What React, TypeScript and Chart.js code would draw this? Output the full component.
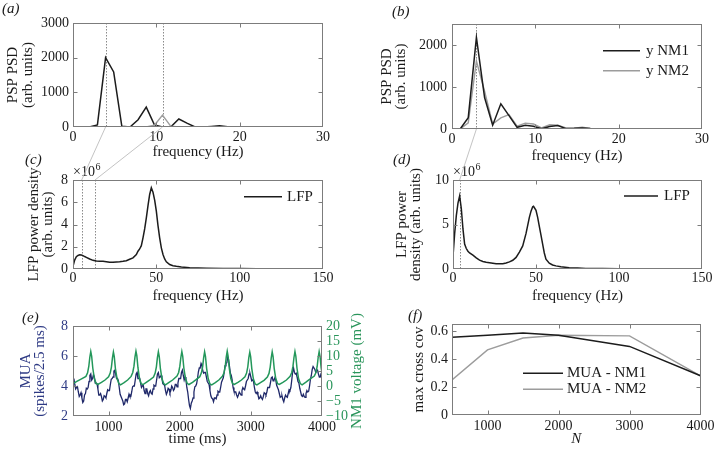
import React, { useEffect, useRef } from "react";
import { Chart, registerables } from "chart.js";

Chart.register(...registerables);

const FIG_W = 717;
const FIG_H = 452;
const FONT = '"Liberation Serif", "Times New Roman", Times, serif';
const INK = "#1a1a1a";
const BOX = "#7c7c7c";
const MARK = "#8a8a8a";
const LINK = "#b4b4b4";
const BLACK = "#1c1c1c";
const GRAY = "#9c9c9c";
const NAVY = "#1f2869";
const NAVY_TXT = "#2e3a84";
const GREEN = "#23975a";
const GREEN_TXT = "#2a955b";

// ---------------- data ----------------
// (a) and (b): PSP power spectra, frequency bins (Hz)
const PSD_FREQ = [0, 0.98, 1.95, 2.93, 3.91, 4.88, 5.86, 6.84, 7.81, 8.79, 9.77, 10.74, 11.72, 12.7, 13.67, 14.65, 15.63, 16.6, 17.58, 18.55, 19.53, 20.51, 21.48, 22.46, 23.44, 24.41, 25.39, 26.37, 27.34, 28.32, 29.3];
const A_NM1 = [0, 0, 0, 60, 2000, 1590, 20, 0, 210, 575, 60, 0, 0, 230, 110, 0, 0, 15, 35, 10, 0, 0, 0, 0, 0, 0, 0, 0, 0, 0, 0];
const A_NM2 = [0, 0, 0, 0, 0, 0, 0, 0, 0, 0, 50, 345, 25, 0, 0, 0, 0, 0, 0, 0, 0, 0, 0, 0, 0, 0, 0, 0, 0, 0, 0];
const B_NM1 = [0, 0, 270, 2180, 750, 90, 600, 320, 40, 90, 65, 5, 60, 85, 10, 15, 25, 10, 5, 0, 0, 0, 0, 0, 0, 0, 0, 0, 0, 0, 0];
const B_NM2 = [0, 0, 145, 1620, 900, 120, 265, 340, 65, 140, 120, 25, 100, 90, 25, 20, 40, 15, 5, 0, 0, 0, 0, 0, 0, 0, 0, 0, 0, 0, 0];
const A_MARKS = [3.91, 10.74];
const B_MARKS = [2.93];

// (c) and (d): LFP power density (x 10^6)
const C_FREQ = [0, 1, 2, 3, 4, 5, 6, 7, 8, 10, 12, 14, 16, 18, 20, 22, 24, 26, 28, 30, 32, 34, 36, 38, 39, 40, 41, 42, 43, 44, 45, 46, 47, 48, 49, 50, 51, 52, 53, 54, 55, 56, 58, 60, 62, 65, 70, 75, 80, 90, 100, 110, 120, 130, 140, 150];
const C_LFP = [0.25, 0.8, 1.1, 1.22, 1.27, 1.25, 1.2, 1.12, 1.05, 0.9, 0.78, 0.72, 0.7, 0.69, 0.66, 0.6, 0.6, 0.63, 0.66, 0.7, 0.75, 0.88, 1.0, 1.3, 1.6, 1.8, 2.1, 2.8, 3.6, 4.6, 5.7, 6.7, 7.3, 6.9, 6.2, 5.2, 3.9, 2.8, 1.9, 1.3, 0.9, 0.65, 0.4, 0.3, 0.24, 0.17, 0.12, 0.09, 0.07, 0.05, 0.04, 0.03, 0.025, 0.02, 0.015, 0.01];
const C_MARKS = [5.2, 13.2];
const D_FREQ = [0, 1, 2, 3, 4, 5, 6, 7, 8, 9, 10, 12, 14, 16, 18, 20, 22, 24, 26, 28, 30, 32, 34, 36, 38, 40, 42, 44, 46, 47, 48, 48.5, 50, 51, 52, 53, 54, 55, 56, 58, 60, 62, 65, 70, 75, 80, 90, 100, 120, 150];
const D_LFP = [1.4, 4.0, 6.0, 7.4, 8.2, 6.8, 4.5, 2.8, 2.3, 2.0, 1.8, 1.55, 1.25, 1.0, 0.85, 0.75, 0.7, 0.65, 0.6, 0.58, 0.6, 0.67, 0.8, 0.98, 1.3, 1.9, 2.6, 4.0, 5.8, 6.5, 7.0, 7.05, 6.6, 5.8, 4.8, 3.8, 2.8, 1.8, 1.1, 0.65, 0.45, 0.35, 0.25, 0.15, 0.1, 0.07, 0.05, 0.04, 0.03, 0.02];
const D_MARKS = [4.0];

// (e): MUA (spikes / 2.5 ms) sampled every 12.5 ms from 500 ms, and NM1 voltage (mV)
const MUA_T0 = 500;
const MUA_DT = 12.5;
const MUA = [
  4.4, 4.5, 4.1, 3.8, 3.9, 3.95, 3.6, 3.3, 3.4, 3.55, 3.2, 2.9, 3.0, 3.4, 3.5, 3.85,
  3.8, 3.9, 4.3, 4.7, 4.8, 4.4, 4.5, 4.75, 4.6, 4.2, 4.2, 4.15, 3.8, 3.4, 3.4, 3.5,
  3.3, 3.0, 3.1, 3.35, 3.3, 3.2, 3.5, 3.75, 3.7, 3.7, 4.1, 4.45, 4.5, 4.6, 5.0, 5.05,
  4.8, 4.5, 4.5, 4.35, 3.9, 3.45, 3.3, 3.3, 3.0, 2.75, 2.8, 3.1, 3.1, 2.95, 3.2, 3.45,
  3.3, 3.3, 3.6, 3.95, 4.0, 4.0, 4.4, 4.8, 4.9, 4.5, 4.5, 4.5, 4.2, 3.9, 4.0, 4.05,
  3.7, 3.5, 3.8, 3.8, 3.5, 3.35, 3.6, 3.7, 3.5, 3.45, 3.8, 4.05, 4.0, 4.0, 4.4, 4.8,
  4.9, 4.55, 4.6, 4.7, 4.5, 4.15, 4.1, 4.05, 3.7, 3.45, 3.6, 3.85, 3.8, 3.55, 3.7, 4.0,
  3.9, 3.7, 3.8, 4.1, 4.1, 3.95, 4.2, 4.5, 4.5, 4.5, 4.9, 5.05, 4.7, 4.4, 4.6, 4.4,
  3.9, 3.6, 3.1, 2.7, 2.5, 2.85, 3.0, 3.2, 3.6, 3.95, 4.0, 4.15, 4.5, 4.95, 5.2, 5.2,
  5.5, 5.35, 5.0, 4.85, 4.9, 4.9, 4.6, 4.3, 4.2, 4.1, 3.7, 3.35, 3.2, 3.15, 2.95, 3.2,
  3.2, 3.15, 3.4, 3.65, 3.6, 3.6, 3.9, 4.25, 4.4, 4.55, 4.9, 5.35, 5.5, 5.55, 5.9, 5.75,
  5.3, 4.85, 4.7, 4.4, 3.9, 3.65, 3.6, 3.6, 3.4, 3.25, 3.4, 3.6, 3.5, 3.4, 3.7, 3.9,
  3.8, 3.75, 4.0, 4.3, 4.4, 4.5, 4.8, 4.85, 4.6, 4.35, 4.4, 4.3, 3.9, 3.6, 3.5, 3.6,
  3.4, 3.15, 3.2, 3.35, 3.2, 3.1, 3.3, 3.55, 3.5, 3.4, 3.6, 3.9, 3.9, 3.9, 4.2, 4.55,
  4.6, 4.35, 4.4, 4.55, 4.4, 4.05, 3.9, 3.75, 3.5, 3.25, 3.3, 3.35, 3.1, 2.95, 3.2, 3.4,
  3.3, 3.25, 3.5, 3.75, 3.7, 3.9, 4.4, 4.95, 5.2, 4.9, 4.8, 4.85, 4.6, 4.3, 4.2, 3.85,
  3.6, 3.35, 3.3, 3.45, 3.3, 3.25, 3.5, 3.7, 3.6, 3.65, 4.0, 4.45, 4.7, 5.1, 5.3, 5.3,
  5.1, 4.9, 5.0, 5.05, 4.8, 4.6, 4.6, 4.85, 4.9,
];
const NM1_T = [
  500, 560, 620,
  682, 705, 722, 736, 750, 762, 778, 800, 825, 850, 900, 950,
  1000, 1023, 1040, 1054, 1068, 1080, 1096, 1118, 1143, 1168, 1218, 1268,
  1317, 1340, 1357, 1371, 1385, 1397, 1413, 1435, 1460, 1485, 1535, 1585,
  1632, 1655, 1672, 1686, 1700, 1712, 1728, 1750, 1775, 1800, 1850, 1900,
  1962, 1985, 2002, 2016, 2030, 2042, 2058, 2080, 2105, 2130, 2180, 2230,
  2282, 2305, 2322, 2336, 2350, 2362, 2378, 2400, 2425, 2450, 2500, 2550,
  2600, 2623, 2640, 2654, 2668, 2680, 2696, 2718, 2743, 2768, 2818, 2868,
  2917, 2940, 2957, 2971, 2985, 2997, 3013, 3035, 3060, 3085, 3135, 3185,
  3232, 3255, 3272, 3286, 3300, 3312, 3328, 3350, 3375, 3400, 3450, 3500,
  3552, 3575, 3592, 3606, 3620, 3632, 3648, 3670, 3695, 3720, 3770, 3820,
  3892, 3915, 3932, 3946, 3960, 3972, 3988, 4000,
];
const NM1_V = [
  0.8, 1.6, 2.4,
  3.2, 4.4, 6.5, 9.5, 11.5, 10.0, 6.0, 2.5, 0.8, 0.5, 1.2, 2.0,
  3.1, 4.3, 6.3, 9.3, 11.3, 9.8, 5.8, 2.6, 0.9, 0.4, 1.1, 2.0,
  3.2, 4.5, 6.6, 9.6, 11.6, 10.1, 6.1, 2.4, 0.7, 0.5, 1.3, 2.1,
  3.0, 4.3, 6.4, 9.4, 11.4, 9.9, 5.9, 2.5, 0.8, 0.4, 1.2, 2.0,
  3.3, 4.5, 6.6, 9.5, 11.5, 10.0, 6.0, 2.6, 0.9, 0.5, 1.2, 2.1,
  3.1, 4.4, 6.4, 9.4, 11.4, 9.9, 5.9, 2.5, 0.7, 0.4, 1.1, 2.0,
  3.2, 4.4, 6.5, 9.6, 11.6, 10.0, 6.0, 2.5, 0.8, 0.5, 1.2, 2.0,
  3.1, 4.3, 6.4, 9.4, 11.3, 9.8, 5.8, 2.4, 0.7, 0.4, 1.1, 1.9,
  3.0, 4.2, 6.3, 9.3, 11.4, 9.9, 5.9, 2.5, 0.8, 0.5, 1.2, 2.0,
  3.2, 4.5, 6.6, 9.5, 11.5, 10.0, 6.0, 2.5, 0.8, 0.4, 1.2, 2.1,
  3.3, 4.5, 6.5, 9.5, 11.5, 10.0, 6.0, 4.5,
];

// (f): max cross covariance vs N
const F_N = [500, 1000, 1500, 2000, 3000, 4000];
const F_NM1 = [0.555, 0.57, 0.585, 0.57, 0.49, 0.28];
const F_NM2 = [0.25, 0.465, 0.55, 0.57, 0.565, 0.28];

// tick values
const PSD_X_TICKS = [0, 10, 20, 30];
const A_Y_TICKS = [0, 1000, 2000, 3000];
const B_Y_TICKS = [0, 1000, 2000];
const LFP_X_TICKS = [0, 50, 100, 150];
const C_Y_TICKS = [0, 2, 4, 6, 8];
const D_Y_TICKS = [0, 5, 10];
const TIME_X_TICKS = [1000, 2000, 3000, 4000];
const E_YL_TICKS = [2, 4, 6, 8];
const E_YR_TICKS = [-10, -5, 0, 5, 10, 15, 20];
const F_Y_TICKS = [0, 0.2, 0.4, 0.6];

// ---------------- helpers ----------------
type AxisSpec = { min: number; max: number; ticks: number[]; pad: number; color?: string };
type PanelSpec = {
  area: { l: number; t: number; r: number; b: number };
  x: AxisSpec;
  y: AxisSpec;
  y2?: AxisSpec;
  datasets: any[];
  letter: { text: string; x: number; y: number };
  yTitle: { lines: string[]; xs: number[]; color?: string };
  y2Title?: { text: string; x: number; color: string };
  xTitle: { text: string; y: number; italic?: boolean };
  legend?: { x0: number; x1: number; tx: number; rows: { ds: number; y: number }[] };
  marks?: number[];
  exponent?: { x: number; y: number };
  link?: { from: () => any; fromVals: number[]; toVals: number[] };
};

function series(label: string, xs: number[], ys: number[], color: string, width: number, axis = "y") {
  return {
    label,
    data: xs.map((x, i) => ({ x, y: ys[i] })),
    borderColor: color,
    backgroundColor: color,
    borderWidth: width,
    pointRadius: 0,
    tension: 0,
    fill: false,
    yAxisID: axis,
  };
}

function fmt(v: number) {
  return v < 0 ? "\u2212" + Math.abs(v) : String(v);
}

function text(ctx: CanvasRenderingContext2D, s: string, x: number, y: number, o: { size?: number; color?: string; align?: CanvasTextAlign; rot?: number; italic?: boolean; baseline?: CanvasTextBaseline } = {}) {
  ctx.save();
  ctx.translate(x, y);
  ctx.rotate(o.rot || 0);
  ctx.font = `${o.italic ? "italic " : ""}${o.size || 15}px ${FONT}`;
  ctx.fillStyle = o.color || INK;
  ctx.textAlign = o.align || "center";
  ctx.textBaseline = o.baseline || "middle";
  ctx.fillText(s, 0, 0);
  ctx.restore();
}

function decoPlugin(spec: PanelSpec) {
  return {
    id: "deco",
    beforeDatasetsDraw(chart: any) {
      const { ctx, chartArea: a } = chart;
      const xs = chart.scales.x;
      (spec.marks || []).forEach((v) => {
        const px = Math.round(xs.getPixelForValue(v)) + 0.5;
        ctx.save();
        ctx.strokeStyle = MARK;
        ctx.lineWidth = 1;
        ctx.setLineDash([1.5, 1.5]);
        ctx.beginPath();
        ctx.moveTo(px, a.top);
        ctx.lineTo(px, a.bottom);
        ctx.stroke();
        ctx.restore();
      });
    },
    afterDraw(chart: any) {
      const { ctx, chartArea: a } = chart;
      const L = Math.round(a.left) + 0.5;
      const R = Math.round(a.right) - 0.5;
      const T = Math.round(a.top) + 0.5;
      const B = Math.round(a.bottom) - 0.5;
      ctx.save();
      ctx.strokeStyle = BOX;
      ctx.lineWidth = 1;
      ctx.strokeRect(L, T, R - L, B - T);
      const TL = 4;
      ctx.beginPath();
      chart.scales.x.ticks.forEach((tk: any) => {
        const px = Math.round(chart.scales.x.getPixelForValue(tk.value)) + 0.5;
        if (px <= L + 1 || px >= R - 1) return;
        ctx.moveTo(px, B);
        ctx.lineTo(px, B - TL);
        ctx.moveTo(px, T);
        ctx.lineTo(px, T + TL);
      });
      const yTicks = (scale: any, left: boolean, right: boolean) =>
        scale.ticks.forEach((tk: any) => {
          const py = Math.round(scale.getPixelForValue(tk.value)) + 0.5;
          if (py <= T + 1 || py >= B - 1) return;
          if (left) {
            ctx.moveTo(L, py);
            ctx.lineTo(L + TL, py);
          }
          if (right) {
            ctx.moveTo(R, py);
            ctx.lineTo(R - TL, py);
          }
        });
      yTicks(chart.scales.y, true, !spec.y2);
      if (spec.y2) yTicks(chart.scales.y2, false, true);
      ctx.stroke();

      const cx = (a.left + a.right) / 2;
      const cy = (a.top + a.bottom) / 2;
      text(ctx, spec.letter.text, spec.letter.x, spec.letter.y, { italic: true, align: "left" });
      spec.yTitle.lines.forEach((ln, i) =>
        text(ctx, ln, spec.yTitle.xs[i], cy, { rot: -Math.PI / 2, color: spec.yTitle.color })
      );
      if (spec.y2Title) text(ctx, spec.y2Title.text, spec.y2Title.x, cy, { rot: -Math.PI / 2, color: spec.y2Title.color });
      text(ctx, spec.xTitle.text, cx, spec.xTitle.y, { italic: spec.xTitle.italic });

      if (spec.exponent) {
        ctx.font = `14px ${FONT}`;
        const w = ctx.measureText("\u00d710").width;
        text(ctx, "\u00d710", spec.exponent.x, spec.exponent.y, { size: 14, align: "left", baseline: "alphabetic" });
        text(ctx, "6", spec.exponent.x + w + 0.5, spec.exponent.y - 6, { size: 10, align: "left", baseline: "alphabetic" });
      }

      if (spec.legend) {
        const lg = spec.legend;
        lg.rows.forEach((row) => {
          const ds = chart.data.datasets[row.ds];
          ctx.strokeStyle = ds.borderColor;
          ctx.lineWidth = ds.borderWidth;
          ctx.beginPath();
          ctx.moveTo(lg.x0, row.y);
          ctx.lineTo(lg.x1, row.y);
          ctx.stroke();
          text(ctx, ds.label, lg.tx, row.y, { align: "left" });
        });
      }

      if (spec.link) {
        const src = spec.link.from();
        if (src) {
          ctx.strokeStyle = LINK;
          ctx.lineWidth = 0.8;
          spec.link.fromVals.forEach((v, i) => {
            const x0 = src.scales.x.getPixelForValue(v);
            const y0 = src.chartArea.bottom;
            const x1 = chart.scales.x.getPixelForValue(spec.link!.toVals[i]);
            ctx.beginPath();
            ctx.moveTo(x0, y0);
            ctx.lineTo(x1, a.top);
            ctx.stroke();
          });
        }
      }
      ctx.restore();
    },
  };
}

function buildChart(canvas: HTMLCanvasElement, spec: PanelSpec) {
  const YW = 40;
  const XH = 24;
  const RW = 30;
  const { l, t, r, b } = spec.area;
  const tickFont = { family: FONT, size: 14 };
  const setTicks = (vals: number[]) => (s: any) => {
    s.ticks = vals.map((v) => ({ value: v }));
  };
  const yScale = (ax: AxisSpec, position: string, width: number) => ({
    type: "linear",
    position,
    min: ax.min,
    max: ax.max,
    afterBuildTicks: setTicks(ax.ticks),
    afterFit: (s: any) => {
      s.width = width;
    },
    grid: { display: false, drawTicks: false },
    border: { display: false },
    ticks: { font: tickFont, color: ax.color || INK, padding: ax.pad, autoSkip: false, callback: (v: any) => fmt(v) },
  });
  const scales: any = {
    x: {
      type: "linear",
      position: "bottom",
      min: spec.x.min,
      max: spec.x.max,
      afterBuildTicks: setTicks(spec.x.ticks),
      afterFit: (s: any) => {
        s.height = XH;
      },
      grid: { display: false, drawTicks: false },
      border: { display: false },
      ticks: { font: tickFont, color: INK, padding: spec.x.pad, maxRotation: 0, minRotation: 0, autoSkip: false, callback: (v: any) => fmt(v) },
    },
    y: yScale(spec.y, "left", YW),
  };
  if (spec.y2) scales.y2 = yScale(spec.y2, "right", RW);
  return new Chart(canvas, {
    type: "line",
    data: { datasets: spec.datasets },
    options: {
      responsive: false,
      animation: false,
      devicePixelRatio: 1,
      events: [],
      layout: {
        padding: { left: l - YW, top: t, right: FIG_W - r - (spec.y2 ? RW : 0), bottom: FIG_H - b - XH },
      },
      plugins: { legend: { display: false }, tooltip: { enabled: false }, title: { display: false } },
      scales,
    } as any,
    plugins: [decoPlugin(spec) as any],
  });
}

function makeSpecs(charts: any[]): PanelSpec[] {
  const muaT = MUA.map((_, i) => MUA_T0 + i * MUA_DT);
  return [
    {
      area: { l: 73, t: 23, r: 323, b: 127 },
      x: { min: 0, max: 30, ticks: PSD_X_TICKS, pad: 2 },
      y: { min: 0, max: 3000, ticks: A_Y_TICKS, pad: 4 },
      datasets: [series("y NM2", PSD_FREQ, A_NM2, GRAY, 1.4), series("y NM1", PSD_FREQ, A_NM1, BLACK, 1.5)],
      letter: { text: "(a)", x: 2, y: 9 },
      yTitle: { lines: ["PSP PSD", "(arb. units)"], xs: [13, 28] },
      xTitle: { text: "frequency (Hz)", y: 152 },
      marks: A_MARKS,
    },
    {
      area: { l: 452, t: 24, r: 702, b: 129 },
      x: { min: 0, max: 30, ticks: PSD_X_TICKS, pad: 2 },
      y: { min: 0, max: 2500, ticks: B_Y_TICKS, pad: 5 },
      datasets: [series("y NM1", PSD_FREQ, B_NM1, BLACK, 1.5), series("y NM2", PSD_FREQ, B_NM2, GRAY, 1.4)],
      letter: { text: "(b)", x: 392, y: 12.5 },
      yTitle: { lines: ["PSP PSD", "(arb. units)"], xs: [387, 401] },
      xTitle: { text: "frequency (Hz)", y: 156 },
      legend: { x0: 603, x1: 640, tx: 646, rows: [{ ds: 0, y: 50.7 }, { ds: 1, y: 70.7 }] },
      marks: B_MARKS,
    },
    {
      area: { l: 73, t: 180, r: 323, b: 269 },
      x: { min: 0, max: 150, ticks: LFP_X_TICKS, pad: 1 },
      y: { min: 0, max: 8, ticks: C_Y_TICKS, pad: 5 },
      datasets: [series("LFP", C_FREQ, C_LFP, BLACK, 1.5)],
      letter: { text: "(c)", x: 25, y: 160 },
      yTitle: { lines: ["LFP power density", "(arb. units)"], xs: [34, 48] },
      xTitle: { text: "frequency (Hz)", y: 296 },
      legend: { x0: 244, x1: 282, tx: 287, rows: [{ ds: 0, y: 196.7 }] },
      marks: C_MARKS,
      exponent: { x: 73, y: 176 },
      link: { from: () => charts[0], fromVals: A_MARKS, toVals: C_MARKS },
    },
    {
      area: { l: 453, t: 180, r: 702, b: 269 },
      x: { min: 0, max: 150, ticks: LFP_X_TICKS, pad: 1 },
      y: { min: 0, max: 10, ticks: D_Y_TICKS, pad: 4 },
      datasets: [series("LFP", D_FREQ, D_LFP, BLACK, 1.5)],
      letter: { text: "(d)", x: 393, y: 160 },
      yTitle: { lines: ["LFP power", "density (arb. units)"], xs: [402, 416] },
      xTitle: { text: "frequency (Hz)", y: 296 },
      legend: { x0: 624, x1: 658, tx: 664, rows: [{ ds: 0, y: 196 }] },
      marks: D_MARKS,
      exponent: { x: 453, y: 176 },
      link: { from: () => charts[1], fromVals: B_MARKS, toVals: D_MARKS },
    },
    {
      area: { l: 73, t: 326, r: 322, b: 416 },
      x: { min: 500, max: 4000, ticks: TIME_X_TICKS, pad: 2.5 },
      y: { min: 2, max: 8, ticks: E_YL_TICKS, pad: 5, color: NAVY_TXT },
      y2: { min: -10, max: 20, ticks: E_YR_TICKS, pad: 4, color: GREEN_TXT },
      datasets: [series("NM1 voltage", NM1_T, NM1_V, GREEN, 1.5, "y2"), series("MUA", muaT, MUA, NAVY, 1.3, "y")],
      letter: { text: "(e)", x: 22, y: 318 },
      yTitle: { lines: ["MUA", "(spikes/2.5 ms)"], xs: [26, 40], color: NAVY_TXT },
      y2Title: { text: "NM1 voltage (mV)", x: 357, color: GREEN_TXT },
      xTitle: { text: "time (ms)", y: 439 },
    },
    {
      area: { l: 452, t: 324, r: 702, b: 415 },
      x: { min: 500, max: 4000, ticks: TIME_X_TICKS, pad: 2.5 },
      y: { min: 0, max: 0.65, ticks: F_Y_TICKS, pad: 4 },
      datasets: [series("MUA - NM1", F_N, F_NM1, BLACK, 1.5), series("MUA - NM2", F_N, F_NM2, GRAY, 1.4)],
      letter: { text: "(f)", x: 408, y: 316 },
      yTitle: { lines: ["max cross cov"], xs: [419] },
      xTitle: { text: "N", y: 439, italic: true },
      legend: { x0: 523, x1: 563, tx: 567, rows: [{ ds: 0, y: 373.3 }, { ds: 1, y: 389.3 }] },
    },
  ];
}

export default function App() {
  const refs = useRef<(HTMLCanvasElement | null)[]>([]);
  useEffect(() => {
    const charts: any[] = [];
    const specs = makeSpecs(charts);
    specs.forEach((s, i) => {
      const cv = refs.current[i];
      if (cv) charts.push(buildChart(cv, s));
    });
    return () => charts.forEach((c) => c.destroy());
  }, []);
  return (
    <div style={{ position: "fixed", left: 0, top: 0, width: FIG_W, height: FIG_H, background: "#fff", overflow: "hidden" }}>
      {[0, 1, 2, 3, 4, 5].map((i) => (
        <canvas
          key={i}
          ref={(el) => {
            refs.current[i] = el;
          }}
          width={FIG_W}
          height={FIG_H}
          style={{ position: "absolute", left: 0, top: 0, width: FIG_W, height: FIG_H, pointerEvents: "none" }}
        />
      ))}
    </div>
  );
}
